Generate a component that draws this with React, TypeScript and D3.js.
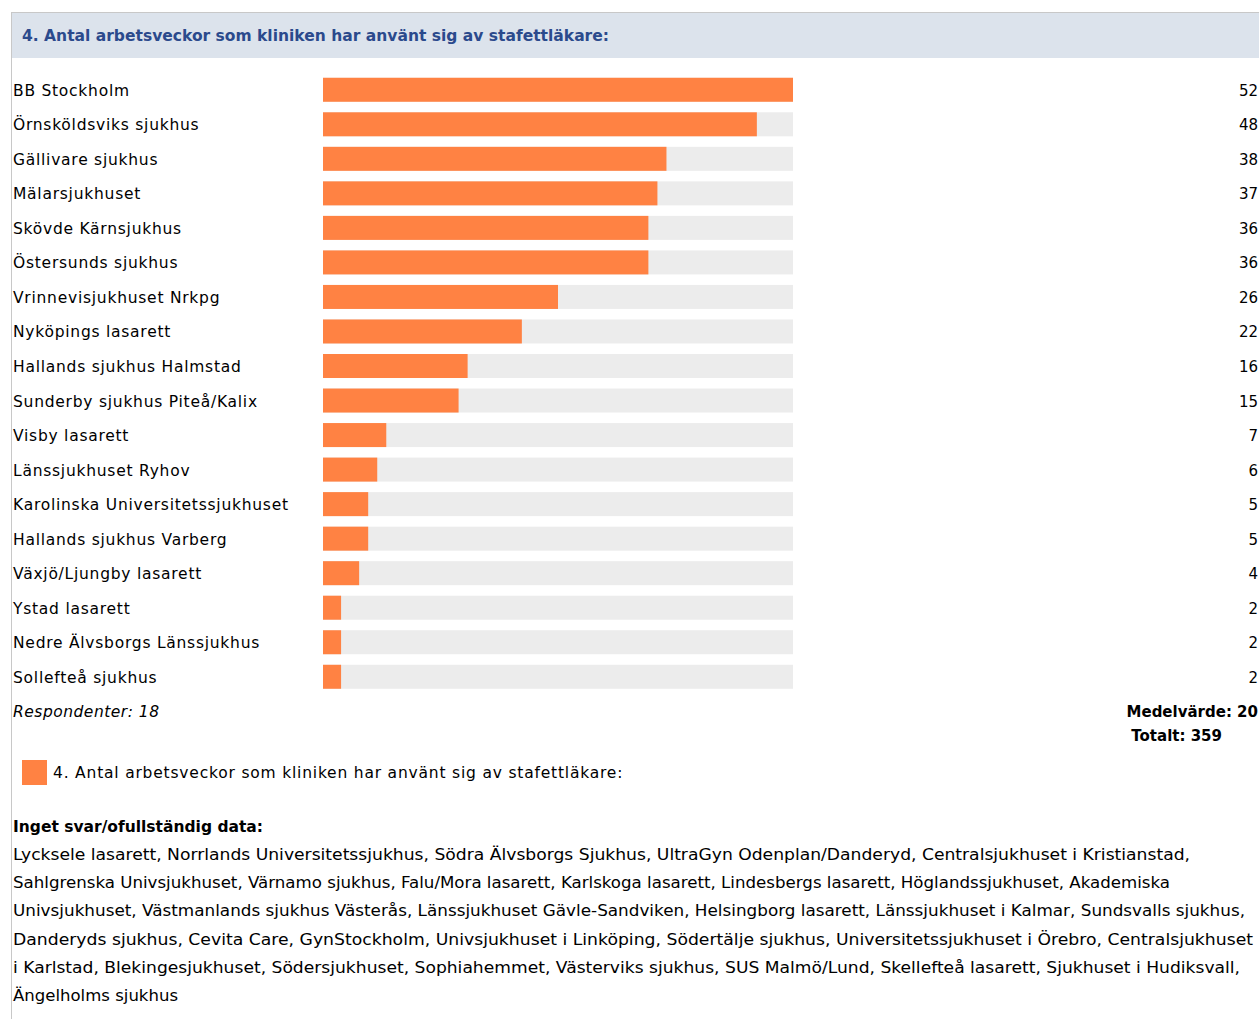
import React from "react";
import * as d3 from "d3";

const categories = [
  "BB Stockholm",
  "Örnsköldsviks sjukhus",
  "Gällivare sjukhus",
  "Mälarsjukhuset",
  "Skövde Kärnsjukhus",
  "Östersunds sjukhus",
  "Vrinnevisjukhuset Nrkpg",
  "Nyköpings lasarett",
  "Hallands sjukhus Halmstad",
  "Sunderby sjukhus Piteå/Kalix",
  "Visby lasarett",
  "Länssjukhuset Ryhov",
  "Karolinska Universitetssjukhuset",
  "Hallands sjukhus Varberg",
  "Växjö/Ljungby lasarett",
  "Ystad lasarett",
  "Nedre Älvsborgs Länssjukhus",
  "Sollefteå sjukhus",
];
const values = [52, 48, 38, 37, 36, 36, 26, 22, 16, 15, 7, 6, 5, 5, 4, 2, 2, 2];

const title = "4. Antal arbetsveckor som kliniken har använt sig av stafettläkare:";
const respondents = "Respondenter: 18";
const meanLabel = "Medelvärde: 20";
const totalLabel = "Totalt: 359";
const noAnswerTitle = "Inget svar/ofullständig data:";
const noAnswerLines = [
  "Lycksele lasarett, Norrlands Universitetssjukhus, Södra Älvsborgs Sjukhus, UltraGyn Odenplan/Danderyd, Centralsjukhuset i Kristianstad,",
  "Sahlgrenska Univsjukhuset, Värnamo sjukhus, Falu/Mora lasarett, Karlskoga lasarett, Lindesbergs lasarett, Höglandssjukhuset, Akademiska",
  "Univsjukhuset, Västmanlands sjukhus Västerås, Länssjukhuset Gävle-Sandviken, Helsingborg lasarett, Länssjukhuset i Kalmar, Sundsvalls sjukhus,",
  "Danderyds sjukhus, Cevita Care, GynStockholm, Univsjukhuset i Linköping, Södertälje sjukhus, Universitetssjukhuset i Örebro, Centralsjukhuset",
  "i Karlstad, Blekingesjukhuset, Södersjukhuset, Sophiahemmet, Västerviks sjukhus, SUS Malmö/Lund, Skellefteå lasarett, Sjukhuset i Hudiksvall,",
  "Ängelholms sjukhus",
];
const noAnswerWidths = [1177, 1157, 1232, 1240, 1227, 165];

const W = 1259;
const H = 1019;
const font = "'DejaVu Sans', Verdana, sans-serif";

export default function App() {
  const x = d3.scaleLinear().domain([0, 52]).range([323, 793]);
  const y = d3
    .scaleBand<string>()
    .domain(categories)
    .range([72.5, 72.5 + 34.53 * categories.length])
    .paddingInner(0.3)
    .paddingOuter(0.15);
  const bh = 24;

  return (
    <svg
      width={W}
      height={H}
      style={{ position: "absolute", left: 0, top: 0, display: "block" }}
      fontFamily={font}
    >
      <rect x={0} y={0} width={W} height={H} fill="#ffffff" />
      {/* frame */}
      <rect x={11.5} y={12.5} width={W} height={H} fill="none" stroke="#c8c8c8" />
      <rect x={12} y={13} width={W} height={45} fill="#dce3ec" />
      <text
        x={22}
        y={41}
        fontSize={15}
        fontWeight="bold"
        fill="#2b4a8c"
        textLength={587}
        lengthAdjust="spacingAndGlyphs"
      >
        {title}
      </text>

      {categories.map((c, i) => {
        const cy = (y(c) as number) + y.bandwidth() / 2;
        return (
          <g key={c}>
            <text x={13} y={cy + 6} fontSize={15.5} letterSpacing={0.75} fill="#000">
              {c}
            </text>
            <rect x={x(0)} y={cy - bh / 2} width={x(52) - x(0)} height={bh} fill="#ececec" />
            <rect
              x={x(0)}
              y={cy - bh / 2}
              width={x(values[i]) - x(0)}
              height={bh}
              fill="#ff8243"
            />
            <text x={1258} y={cy + 6} fontSize={15} textAnchor="end" fill="#000">
              {values[i]}
            </text>
          </g>
        );
      })}

      <text x={13} y={717} fontSize={15.5} letterSpacing={0.5} fontStyle="italic" fill="#000">
        {respondents}
      </text>
      <text x={1258} y={717} fontSize={15} fontWeight="bold" textAnchor="end" fill="#000">
        {meanLabel}
      </text>
      <text x={1222} y={741} fontSize={15} fontWeight="bold" textAnchor="end" fill="#000">
        {totalLabel}
      </text>

      <rect x={22} y={760} width={25} height={25} fill="#ff8243" />
      <text x={53} y={778} fontSize={15.5} letterSpacing={0.8} fill="#000">
        {title}
      </text>

      <text x={13} y={832} fontSize={15.5} fontWeight="bold" fill="#000">
        {noAnswerTitle}
      </text>
      {noAnswerLines.map((l, i) => (
        <text
          key={i}
          x={13}
          y={860 + i * 28.2}
          fontSize={15.5}
          fill="#000"
          textLength={noAnswerWidths[i]}
          lengthAdjust="spacingAndGlyphs"
        >
          {l}
        </text>
      ))}
    </svg>
  );
}
